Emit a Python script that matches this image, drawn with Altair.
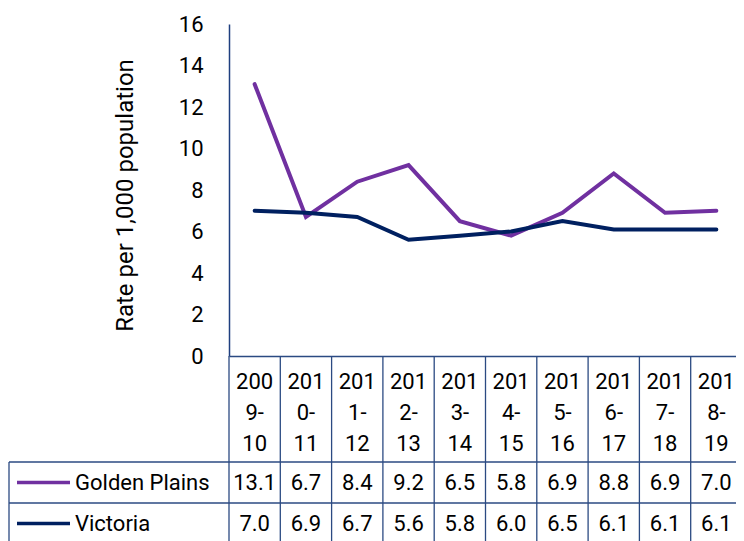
import altair as alt
import pandas as pd

# ---- data -------------------------------------------------------------
periods = ["2009-10", "2010-11", "2011-12", "2012-13", "2013-14",
           "2014-15", "2015-16", "2016-17", "2017-18", "2018-19"]
golden_plains = [13.1, 6.7, 8.4, 9.2, 6.5, 5.8, 6.9, 8.8, 6.9, 7.0]
victoria = [7.0, 6.9, 6.7, 5.6, 5.8, 6.0, 6.5, 6.1, 6.1, 6.1]
series_names = ["Golden Plains", "Victoria"]
series_colors = ["#7030A0", "#002060"]
y_ticks = [0, 2, 4, 6, 8, 10, 12, 14, 16]
y_title = "Rate per 1,000 population"

rows = []
for name, vals in zip(series_names, [golden_plains, victoria]):
    for p, v in zip(periods, vals):
        rows.append({"period": p, "series": name, "value": v})
df = pd.DataFrame(rows)

# ---- styling ------------------------------------------------------------
FONT = "Roboto"
FS = 22
GRID = "#2B4A82"
PLOT_W = 507
PLOT_H = 332
X_END = 513
ROW_TOP = 438
ROW_BOTTOM = 520

x_scale = alt.Scale(type="band", domain=periods, range=[0, X_END],
                    paddingInner=0, paddingOuter=0)
row_scale = alt.Scale(type="band", domain=series_names, range=[ROW_TOP, ROW_BOTTOM],
                      paddingInner=0, paddingOuter=0)
color_scale = alt.Scale(domain=series_names, range=series_colors)

x_axis = alt.Axis(
    orient="bottom", title=None, grid=False, ticks=False, tickSize=0,
    labelAngle=0, labelOverlap=False, labelFont=FONT, labelFontSize=FS,
    labelColor="#000000", labelBaseline="middle", labelLineHeight=31,
    labelPadding=25, labelLimit=0,
    labelExpr="[substring(datum.label,0,3), substring(datum.label,3,5), substring(datum.label,5)]",
    domainColor=GRID, domainWidth=1.3,
)
y_axis = alt.Axis(
    values=y_ticks, grid=False, ticks=False, tickSize=0, labelFlush=False,
    labelFont=FONT, labelFontSize=FS, labelColor="#000000", labelPadding=26,
    domainColor="#1F3F7F", domainWidth=1.5,
    title=y_title, titleFont=FONT, titleFontSize=24, titleFontWeight="normal",
    titleColor="#000000", titleX=-104, titleY=171, titleAlign="center",
    titleBaseline="middle", titleAngle=-90,
)

X_ENC = alt.X("period:N", scale=x_scale, bandPosition=0.5, axis=x_axis)

base = alt.Chart(df)

lines = base.mark_line(strokeWidth=4, strokeCap="round").encode(
    x=X_ENC,
    y=alt.Y("value:Q", scale=alt.Scale(domain=[0, 16], nice=False, zero=True),
            axis=y_axis),
    color=alt.Color("series:N", scale=color_scale, legend=None),
    detail="series:N",
)

# vertical cell borders of the data table
vgrid = base.transform_filter(alt.datum.series == series_names[0]).mark_rule(
    color=GRID, strokeWidth=1.3
).encode(
    x=alt.X("period:N", scale=x_scale, bandPosition=0, axis=x_axis),
    y=alt.value(PLOT_H),
    y2=alt.value(540),
)
# horizontal row borders
hgrid = base.transform_filter(alt.datum.period == periods[0]).mark_rule(
    color=GRID, strokeWidth=1.3
).encode(
    y=alt.Y("series:N", scale=row_scale, bandPosition=0, axis=None),
    x=alt.value(-220),
    x2=alt.value(X_END),
)
# left border of legend cells
lborder = base.transform_filter(alt.datum.period == periods[0]).transform_filter(
    alt.datum.series == series_names[0]
).mark_rule(color=GRID, strokeWidth=1.3).encode(
    x=alt.value(-220), y=alt.value(ROW_TOP), y2=alt.value(540)
)

cells = base.mark_text(font=FONT, fontSize=FS, color="#000000",
                       align="center", baseline="middle").encode(
    x=X_ENC,
    y=alt.Y("series:N", scale=row_scale, bandPosition=0.5, axis=None),
    text=alt.Text("value:Q", format=".1f"),
)

row_labels = base.transform_filter(alt.datum.period == periods[0]).mark_text(
    font=FONT, fontSize=FS, color="#000000", align="left", baseline="middle"
).encode(
    x=alt.value(-154),
    y=alt.Y("series:N", scale=row_scale, bandPosition=0.5, axis=None),
    text="series:N",
)

swatches = base.transform_filter(alt.datum.period == periods[0]).mark_rule(
    strokeWidth=3.5
).encode(
    x=alt.value(-212),
    x2=alt.value(-159),
    y=alt.Y("series:N", scale=row_scale, bandPosition=0.5, axis=None),
    color=alt.Color("series:N", scale=color_scale, legend=None),
)

chart = alt.layer(
    lines, vgrid, hgrid, lborder, cells, row_labels, swatches
).resolve_scale(y="independent").properties(
    width=PLOT_W,
    height=PLOT_H,
    padding={"left": 221, "top": 16, "right": 0, "bottom": 185},
    autosize=alt.AutoSizeParams(type="none"),
    background="#ffffff",
).configure_view(strokeWidth=0)

chart.save("out.html", embed_options={"renderer": "svg", "actions": False})
